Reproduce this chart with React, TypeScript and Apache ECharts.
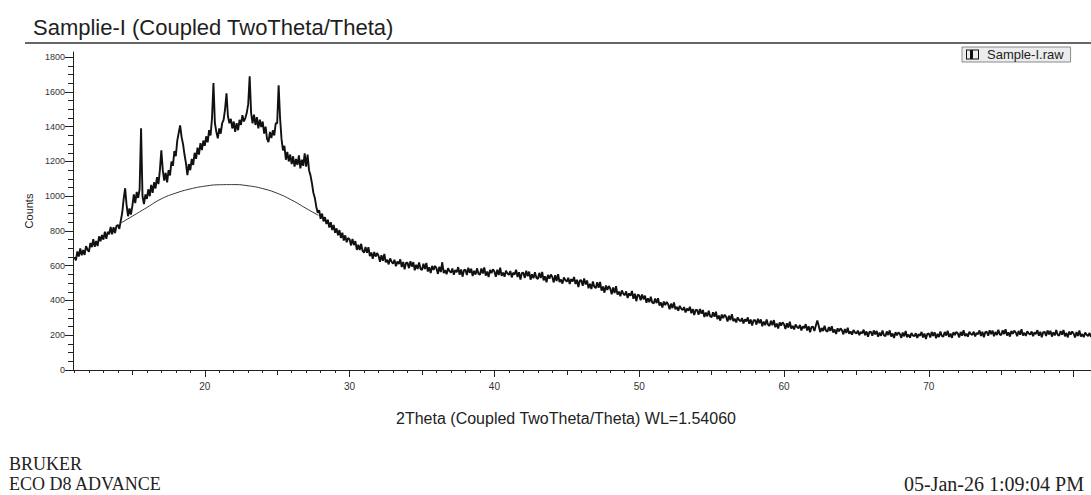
import React, { useEffect, useRef } from 'react';
import * as echarts from 'echarts';

// ---- data (2Theta sampled from START every STEP degrees) ----
const START = 11.0;
const STEP = 0.1;

const counts11to20 = [
  650, 631, 682, 653, 699, 660, 691, 662, 713, 694,
  680, 731, 707, 753, 709, 743, 713, 769, 741, 777,
  750, 796, 755, 795, 781, 823, 781, 822, 788, 829,
  835, 812, 860, 905, 985, 1046, 950, 885, 930, 895,
  945, 1010, 960, 1025, 990, 1040, 1391, 1000, 955, 1010,
  985, 1040, 1000, 1065, 1020, 1080, 1045, 1110, 1070, 1150,
  1264, 1150, 1090, 1135, 1080, 1150, 1120, 1200, 1175, 1260,
  1230, 1320, 1365, 1408, 1340, 1300, 1240, 1190, 1121, 1185,
  1150, 1215, 1180, 1250, 1215, 1280, 1240, 1305, 1265, 1320,
];
const counts20to30 = [
  1290, 1345, 1310, 1380, 1350, 1450, 1651, 1420, 1370, 1333,
  1390, 1360, 1420, 1440, 1500, 1592, 1460, 1420, 1445, 1390,
  1430, 1370, 1420, 1380, 1440, 1410, 1466, 1430, 1450, 1480,
  1530, 1690, 1480, 1420, 1470, 1410, 1455, 1390, 1440, 1398,
  1430, 1360, 1400, 1330, 1312, 1370, 1335, 1379, 1350, 1420,
  1420, 1638, 1450, 1330, 1264, 1290, 1210, 1255, 1200, 1240,
  1185, 1230, 1170, 1215, 1180, 1235, 1160, 1210, 1175, 1247,
  1170, 1240, 1150, 1120, 1075, 1020, 990, 940, 905, 920,
  870, 900, 855, 880, 840, 865, 820, 850, 805, 835,
  790, 815, 775, 805, 760, 790, 745, 775, 735, 760,
];
const counts30to50 = [
  752, 717, 754, 719, 742, 691, 720, 691, 726, 685,
  676, 708, 675, 707, 655, 676, 640, 679, 653, 673,
  657, 623, 661, 629, 668, 619, 635, 608, 642, 623,
  612, 634, 597, 624, 610, 637, 593, 622, 579, 617,
  617, 586, 626, 595, 621, 574, 606, 581, 619, 582,
  576, 611, 581, 616, 567, 591, 558, 599, 576, 599,
  585, 553, 594, 564, 620, 557, 575, 551, 586, 569,
  560, 584, 548, 575, 563, 592, 548, 579, 537, 574,
  577, 547, 589, 559, 583, 541, 571, 549, 585, 554,
  548, 584, 555, 590, 543, 567, 535, 576, 557, 579,
  567, 536, 577, 547, 589, 542, 561, 537, 572, 556,
  547, 570, 533, 560, 549, 577, 535, 563, 521, 559,
  560, 530, 571, 540, 566, 520, 551, 528, 563, 531,
  524, 559, 530, 564, 516, 539, 505, 547, 526, 549,
  535, 504, 545, 512, 551, 506, 521, 497, 532, 517,
  508, 531, 495, 523, 509, 535, 495, 519, 478, 515,
  517, 485, 527, 492, 515, 470, 496, 466, 510, 479,
  471, 505, 473, 507, 457, 480, 445, 486, 461, 483,
  469, 436, 475, 443, 483, 434, 451, 425, 458, 440,
  430, 452, 414, 441, 427, 455, 410, 439, 396, 433,
];
const counts50to65 = [
  430, 402, 435, 407, 428, 387, 413, 390, 422, 389,
  383, 411, 385, 413, 371, 389, 360, 394, 374, 392,
  378, 350, 382, 356, 389, 349, 363, 341, 369, 353,
  344, 362, 331, 353, 342, 364, 327, 351, 316, 346,
  345, 318, 351, 324, 345, 305, 331, 309, 341, 309,
  303, 332, 306, 335, 293, 313, 284, 319, 299, 318,
  306, 279, 312, 287, 321, 281, 295, 274, 303, 288,
  280, 299, 268, 291, 280, 303, 266, 291, 256, 287,
  287, 261, 295, 269, 291, 252, 279, 258, 291, 260,
  254, 283, 258, 287, 246, 267, 239, 274, 255, 274,
  263, 236, 269, 244, 278, 239, 254, 233, 262, 247,
  240, 259, 228, 251, 240, 264, 227, 252, 217, 248,
  249, 225, 256, 285, 253, 218, 242, 224, 254, 226,
  221, 247, 225, 252, 215, 233, 207, 240, 222, 239,
  229, 205, 236, 213, 243, 208, 222, 203, 230, 216,
];
const counts65to81 = [
  210, 227, 200, 220, 211, 232, 200, 222, 191, 219,
  220, 197, 228, 205, 225, 191, 215, 197, 227, 200,
  195, 222, 201, 228, 192, 210, 184, 218, 199, 217,
  208, 185, 216, 194, 224, 189, 204, 186, 213, 199,
  194, 212, 185, 206, 197, 219, 187, 210, 179, 208,
  210, 187, 219, 196, 217, 183, 208, 190, 222, 196,
  192, 219, 198, 226, 190, 209, 185, 218, 201, 220,
  211, 188, 219, 197, 229, 195, 209, 192, 220, 207,
  202, 220, 193, 214, 206, 228, 196, 220, 189, 218,
  220, 197, 229, 206, 227, 194, 219, 201, 232, 205,
  201, 228, 207, 234, 198, 217, 192, 225, 208, 226,
  217, 194, 225, 203, 234, 199, 214, 196, 223, 210,
  204, 222, 195, 216, 207, 229, 197, 220, 189, 218,
  219, 196, 228, 205, 226, 192, 217, 199, 230, 203,
  197, 224, 203, 230, 194, 213, 188, 221, 204, 222,
  210, 187, 218, 196, 227, 192, 207, 189, 216, 203,
  195, 213, 190,
];

// amorphous background curve
const bgTheta = [14.15, 15, 16, 17, 18, 19, 20, 21, 22, 23, 24, 25, 26, 27, 27.85];
const bgCounts = [843, 885, 935, 985, 1018, 1042, 1058, 1066, 1067, 1060, 1044, 1017, 978, 930, 890];

// axis ticks / labels
const xLabelValues = [20, 30, 40, 50, 60, 70];
const xMajorTicks = [20, 30, 40, 50, 60, 70, 80];
const xMidTicks = [15, 25, 35, 45, 55, 65, 75];
const xMinorTicks: number[] = [];
for (let v = 11; v <= 80; v++) if (v % 5 !== 0) xMinorTicks.push(v);
const yLabelValues = [0, 200, 400, 600, 800, 1000, 1200, 1400, 1600, 1800];
const yMinorTicks: number[] = [];
for (let v = 50; v <= 1800; v += 50) if (v % 200 !== 0) yMinorTicks.push(v);

const X_MIN = 10.9;
const X_MAX = 81.2;
const Y_MAX = 1830;

const SANS = "'Liberation Sans', Arial, Helvetica, sans-serif";
const SERIF = "'Liberation Serif', 'Times New Roman', serif";

function buildOption() {
  const allCounts = [...counts11to20, ...counts20to30, ...counts30to50, ...counts50to65, ...counts65to81];
  const raw = allCounts.map((c, i) => [Math.round((START + i * STEP) * 100) / 100, c]);
  const bg = bgTheta.map((t, i) => [t, bgCounts[i]]);

  const xBase = {
    type: 'value',
    min: X_MIN,
    max: X_MAX,
    gridIndex: 0,
    position: 'bottom',
    splitLine: { show: false },
  };
  const yBase = {
    type: 'value',
    min: 0,
    max: Y_MAX,
    gridIndex: 0,
    position: 'left',
    splitLine: { show: false },
  };
  const ink = '#222';
  const plain = (v: number) => String(v);

  return {
    animation: false,
    backgroundColor: '#ffffff',
    title: {
      text: 'Samplie-I (Coupled TwoTheta/Theta)',
      left: 28,
      top: 11,
      textStyle: { fontFamily: SANS, fontSize: 22, fontWeight: 'normal', color: '#1e1e1e' },
    },
    legend: {
      left: 962,
      top: 47,
      padding: [1, 7, 1, 4],
      itemWidth: 13,
      itemHeight: 10,
      itemGap: 0,
      backgroundColor: '#ececec',
      borderColor: '#8a8a8a',
      borderWidth: 1,
      icon: 'path://M0,0H13V10H0Z M1,1V9H12V1Z M4,1H7V9H4Z',
      textStyle: { fontFamily: SANS, fontSize: 13, color: '#222', lineHeight: 10, padding: [0, 0, 0, 3] },
      data: ['Sample-I.raw'],
    },
    grid: { left: 73, top: 52, right: 0, bottom: 125, containLabel: false, outerBoundsMode: 'none' },
    xAxis: [
      {
        ...xBase,
        axisLine: { show: true, lineStyle: { color: ink, width: 1 } },
        axisTick: { show: true, customValues: xMajorTicks, length: 7, lineStyle: { color: ink } },
        axisLabel: { customValues: xLabelValues, formatter: plain, fontSize: 10, fontFamily: SANS, color: '#333', margin: 11 },
        name: '2Theta (Coupled TwoTheta/Theta) WL=1.54060',
        nameLocation: 'middle',
        nameGap: 40,
        nameTextStyle: { fontFamily: SANS, fontSize: 16, color: '#222', padding: [0, 32, 0, 0] },
      },
      {
        ...xBase,
        axisLine: { show: false },
        axisTick: { show: true, customValues: xMidTicks, length: 5, lineStyle: { color: ink } },
        axisLabel: { show: false },
      },
      {
        ...xBase,
        axisLine: { show: false },
        axisTick: { show: true, customValues: xMinorTicks, length: 3, lineStyle: { color: ink } },
        axisLabel: { show: false },
      },
    ],
    yAxis: [
      {
        ...yBase,
        axisLine: { show: true, lineStyle: { color: ink, width: 1 } },
        axisTick: { show: true, customValues: yLabelValues, length: 8, lineStyle: { color: ink } },
        axisLabel: { customValues: yLabelValues, formatter: plain, fontSize: 9, fontFamily: SANS, color: '#333', margin: 8 },
        name: 'Counts',
        nameLocation: 'middle',
        nameGap: 34,
        nameTextStyle: { fontFamily: SANS, fontSize: 11, color: '#222' },
      },
      {
        ...yBase,
        axisLine: { show: false },
        axisTick: { show: true, customValues: yMinorTicks, length: 5, lineStyle: { color: ink } },
        axisLabel: { show: false },
      },
    ],
    graphic: [
      { type: 'line', shape: { x1: 25, y1: 43, x2: 1091, y2: 43 }, style: { stroke: '#333', lineWidth: 1.5 } },
      { type: 'text', x: 9, y: 464, style: { text: 'BRUKER', font: `18px ${SERIF}`, fill: '#222', verticalAlign: 'middle' } },
      { type: 'text', x: 9, y: 484, style: { text: 'ECO D8 ADVANCE', font: `18px ${SERIF}`, fill: '#222', verticalAlign: 'middle' } },
      { type: 'text', x: 904, y: 484, style: { text: '05-Jan-26 1:09:04 PM', font: `20px ${SERIF}`, fill: '#222', verticalAlign: 'middle' } },
    ],
    series: [
      {
        name: 'Sample-I.raw',
        type: 'line',
        xAxisIndex: 0,
        yAxisIndex: 0,
        data: raw,
        showSymbol: false,
        symbol: 'none',
        color: '#111',
        lineStyle: { color: '#111', width: 1.9 },
      },
      {
        name: 'background',
        type: 'line',
        xAxisIndex: 0,
        yAxisIndex: 0,
        data: bg,
        smooth: true,
        showSymbol: false,
        symbol: 'none',
        color: '#333',
        lineStyle: { color: '#333', width: 1 },
      },
    ],
  };
}

export default function App() {
  const ref = useRef<HTMLDivElement>(null);
  useEffect(() => {
    if (!ref.current) return;
    const chart = echarts.init(ref.current, undefined, { renderer: 'svg' });
    chart.setOption(buildOption() as any);
    return () => chart.dispose();
  }, []);
  return (
    <div
      ref={ref}
      style={{ position: 'fixed', left: 0, top: 0, width: 1091, height: 495, background: '#fff' }}
    />
  );
}
